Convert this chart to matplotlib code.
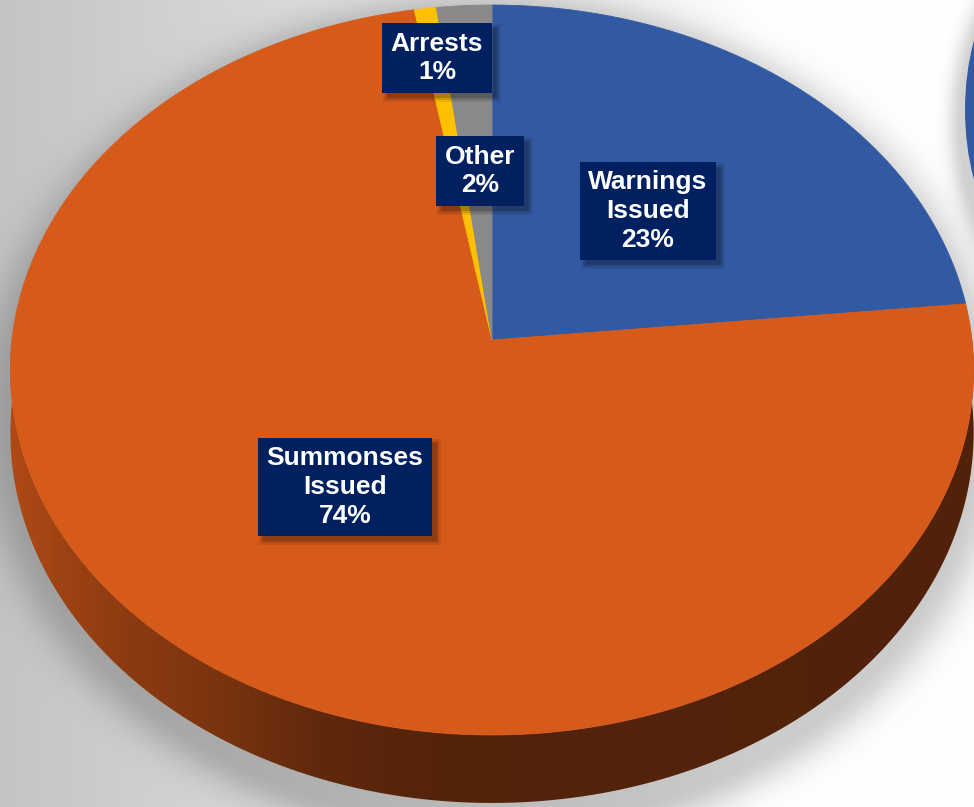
import numpy as np
import matplotlib
matplotlib.use('Agg')
import matplotlib.pyplot as plt
from matplotlib.patches import Polygon, Ellipse, Rectangle

# ---------------- data ----------------
categories = ['Warnings\nIssued', 'Summonses\nIssued', 'Arrests', 'Other']
values = [23.4, 73.8, 0.8, 2.0]
colors = ['#325AA3', '#D65A1A', '#FFC000', '#898989']
label_pos = [(648, 211), (345, 487), (437, 58), (480, 171)]

W, H = 974, 807
fig = plt.figure(figsize=(9.74, 8.07), dpi=100)
ax = fig.add_axes([0, 0, 1, 1])
ax.set_xlim(0, W)
ax.set_ylim(H, 0)
ax.axis('off')

# ---------------- geometry (perspective 3D pie) ----------------
X0, Y0 = 492, 340       # apex of the pie on screen
A, B, K = 362.5, 480.0, -0.0822
DEPTH = 62.4


def rim(theta_deg, z=0.0):
    t = np.radians(theta_deg)
    u, v = np.sin(t), -np.cos(t)
    s = 1.0 / (1.0 + K * v)
    return X0 + B * u * s, Y0 + A * v * s + z * s


# ---------------- background with shadows ----------------
yy, xx = np.mgrid[0:H, 0:W].astype(float)
base = 196 + 59 * np.clip(xx / 760.0, 0, 1)
r1 = np.sqrt(((xx - 492) / 482.0) ** 2 + ((yy - 420) / 401.0) ** 2)
d1 = np.clip((r1 - 1) * 420, 0, None)
sh = 0.2 * np.exp(-(d1 / 30.0) ** 2)
r2 = np.sqrt(((xx - 1080) / 118.0) ** 2 + ((yy - 125) / 180.0) ** 2)
d2 = np.clip((r2 - 1) * 118, 0, None)
sh2 = 0.18 * np.exp(-(d2 / 14.0) ** 2)
img = base * (1 - sh) * (1 - sh2)
img = np.clip(img, 0, 255) / 255.0
ax.imshow(np.dstack([img, img, img]), extent=[0, W, H, 0], aspect='auto',
          zorder=0, interpolation='bilinear')

# neighbouring chart edge (decorative, cut off at the right)
ax.add_patch(Ellipse((1080, 110), 230, 360, fc='#325AA3', ec='none', zorder=1))

# ---------------- pie ----------------
fracs = np.array(values) / np.sum(values)
bounds = np.concatenate([[0], np.cumsum(fracs) * 360])

xs_grid = np.linspace(0, W, W)
shade = np.interp(xs_grid, [0, 10, 60, 130, 200, 330, 450, 974],
                  [0.82, 0.82, 0.74, 0.65, 0.59, 0.44, 0.39, 0.38])

# side walls (front half visible)
for i, col in enumerate(colors):
    t0, t1 = bounds[i], bounds[i + 1]
    a0, a1 = max(t0, 90), min(t1, 270)
    if a1 <= a0:
        continue
    th = np.linspace(a0, a1, 400)
    tx, ty = rim(th)
    bx, by = rim(th, DEPTH)
    pts = np.column_stack([np.concatenate([tx, bx[::-1]]),
                           np.concatenate([ty, by[::-1]])])
    poly = Polygon(pts, closed=True, fc='none', ec='none', zorder=2)
    ax.add_patch(poly)
    rgb = np.array(matplotlib.colors.to_rgb(col))
    grad = shade[None, :, None] * rgb[None, None, :]
    grad = np.repeat(grad, 2, axis=0)
    im = ax.imshow(grad, extent=[0, W, H, 0], aspect='auto', zorder=2,
                   interpolation='bilinear')
    im.set_clip_path(poly)

# top face
for i, col in enumerate(colors):
    t0, t1 = bounds[i], bounds[i + 1]
    th = np.linspace(t0, t1, max(int((t1 - t0) * 4), 8))
    tx, ty = rim(th)
    pts = np.column_stack([np.concatenate([[X0], tx]),
                           np.concatenate([[Y0], ty])])
    ax.add_patch(Polygon(pts, closed=True, fc=col, ec=col, lw=0.6, zorder=3))

# ---------------- labels ----------------
texts = []
for lab, val, (px, py) in zip(categories, values, label_pos):
    txt = f"{lab}\n{val:.0f}%"
    t = ax.text(px, py, txt, color='white', ha='center', va='center',
                fontsize=19, fontweight='bold', family='Liberation Sans',
                linespacing=1.25, multialignment='center',
                bbox=dict(boxstyle='square,pad=0.32', fc='#002060', ec='none'),
                zorder=6)
    texts.append(t)

fig.canvas.draw()
renderer = fig.canvas.get_renderer()
inv = ax.transData.inverted()
for t in texts:
    ext = t.get_bbox_patch().get_window_extent(renderer)
    (x0, y0), (x1, y1) = inv.transform([[ext.x0, ext.y0], [ext.x1, ext.y1]])
    left, right = min(x0, x1), max(x0, x1)
    top, bottom = min(y0, y1), max(y0, y1)
    for grow, alpha in [(4, 0.08), (2, 0.12), (0, 0.18)]:
        ax.add_patch(Rectangle((left + 5 - grow, top + 5 - grow),
                               right - left + 2 * grow, bottom - top + 2 * grow,
                               fc=(0, 0, 0, alpha), ec='none', zorder=5))

fig.savefig('out.png', dpi=100)
